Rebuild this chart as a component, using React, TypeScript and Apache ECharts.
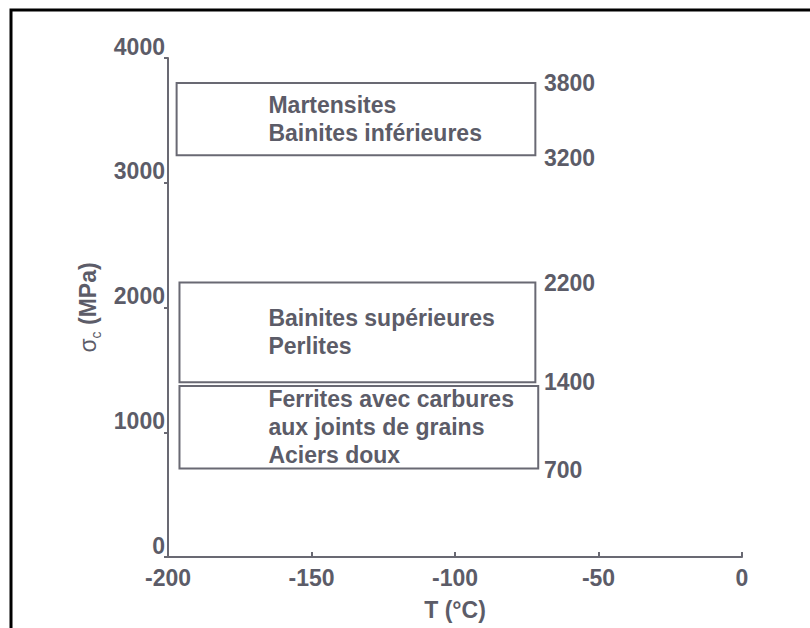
import React, { useEffect, useRef } from "react";
import * as echarts from "echarts";

// Bands (domains) : x extent in °C, y extent in MPa
const bandStart = [-197, -196, -196];
const bandEnd = [-72, -72, -71];
const bandLow = [3220, 1400, 710];
const bandHigh = [3800, 2200, 1370];
const bandLines = [
  ["Martensites", "Bainites inférieures"],
  ["Bainites supérieures", "Perlites"],
  ["Ferrites avec carbures", "aux joints de grains", "Aciers doux"],
];
const bandTextX = -165;

// Right-side value labels
const rightLabelValues = [3800, 3200, 2200, 1400, 700];
const rightLabelX = -69;

// Axes
const xMin = -200;
const xMax = 0;
const xStep = 50;
const yMin = 0;
const yMax = 4000;
const yStep = 1000;

const TEXT = "#5c5c68";
const LINE = "#696973";
const FONT = "Liberation Sans, Arial, sans-serif";
const FS = 23;

export default function App() {
  const ref = useRef<HTMLDivElement>(null);
  useEffect(() => {
    document.body.style.margin = "0";
    document.body.style.overflow = "hidden";
    const chart = echarts.init(ref.current!, null, { renderer: "svg" });
    const bandData = bandStart.map((s, i) => [s, bandEnd[i], bandLow[i], bandHigh[i], i]);
    const labelData = rightLabelValues.map((v) => [rightLabelX, v]);
    chart.setOption({
      animation: false,
      backgroundColor: "#ffffff",
      grid: { left: 168, right: 68, top: 58, bottom: 71 },
      graphic: [
        {
          type: "polyline",
          shape: { points: [[11, 640], [11, 10], [820, 10]] },
          style: { fill: "none", stroke: "#000", lineWidth: 3 },
          silent: true,
        },
      ],
      xAxis: {
        type: "value",
        min: xMin,
        max: xMax,
        interval: xStep,
        name: "T (°C)",
        nameLocation: "middle",
        nameGap: 41,
        nameTextStyle: { color: TEXT, fontSize: FS, fontWeight: "bold", fontFamily: FONT },
        axisLine: { show: true, onZero: false, lineStyle: { color: LINE, width: 2 } },
        axisTick: { show: true, inside: true, length: 5, lineStyle: { color: LINE, width: 2 } },
        axisLabel: {
          color: TEXT,
          fontSize: FS,
          fontWeight: "bold",
          fontFamily: FONT,
          margin: 9,
          lineHeight: FS,
          formatter: (v: number) => String(v),
        },
        splitLine: { show: false },
      },
      yAxis: {
        type: "value",
        min: yMin,
        max: yMax,
        interval: yStep,
        name: "{s|σ}{c|c}{b| (MPa)}",
        nameLocation: "middle",
        nameRotate: 90,
        nameGap: 64,
        nameTextStyle: {
          color: TEXT,
          fontFamily: FONT,
          rich: {
            s: { fontSize: FS, fontWeight: "normal", lineHeight: 30, verticalAlign: "middle", color: TEXT, fontFamily: FONT },
            c: { fontSize: 14, fontWeight: "normal", lineHeight: 14, verticalAlign: "bottom", color: TEXT, fontFamily: FONT },
            b: { fontSize: FS, fontWeight: "bold", lineHeight: 30, verticalAlign: "middle", color: TEXT, fontFamily: FONT },
          },
        },
        axisLine: { show: true, onZero: false, lineStyle: { color: LINE, width: 2 } },
        axisTick: { show: true, inside: false, length: 4, lineStyle: { color: LINE, width: 2 } },
        axisLabel: {
          color: TEXT,
          fontSize: FS,
          fontWeight: "bold",
          fontFamily: FONT,
          margin: 3,
          lineHeight: FS,
          verticalAlign: "bottom",
          formatter: (v: number) => String(v),
        },
        splitLine: { show: false },
      },
      series: [
        {
          type: "custom",
          clip: false,
          data: bandData,
          renderItem: (params: any, api: any) => {
            const x0 = api.value(0);
            const x1 = api.value(1);
            const y0 = api.value(2);
            const y1 = api.value(3);
            const idx = api.value(4);
            const p0 = api.coord([x0, y1]);
            const p1 = api.coord([x1, y0]);
            const tx = api.coord([bandTextX, (y0 + y1) / 2]);
            return {
              type: "group",
              children: [
                {
                  type: "rect",
                  shape: { x: p0[0], y: p0[1], width: p1[0] - p0[0], height: p1[1] - p0[1] },
                  style: { fill: "none", stroke: LINE, lineWidth: 2 },
                },
                {
                  type: "text",
                  x: tx[0],
                  y: (p0[1] + p1[1]) / 2,
                  style: {
                    text: bandLines[idx].join("\n"),
                    fill: TEXT,
                    font: `bold ${FS}px ${FONT}`,
                    lineHeight: 28,
                    align: "left",
                    verticalAlign: "middle",
                  },
                },
              ],
            };
          },
        },
        {
          type: "custom",
          clip: false,
          data: labelData,
          renderItem: (params: any, api: any) => {
            const p = api.coord([api.value(0), api.value(1)]);
            return {
              type: "text",
              x: p[0],
              y: p[1],
              style: {
                text: String(api.value(1)),
                fill: TEXT,
                font: `bold ${FS}px ${FONT}`,
                align: "left",
                verticalAlign: "middle",
              },
            };
          },
        },
      ],
    });
    return () => chart.dispose();
  }, []);
  return <div ref={ref} style={{ width: 810, height: 628 }} />;
}
